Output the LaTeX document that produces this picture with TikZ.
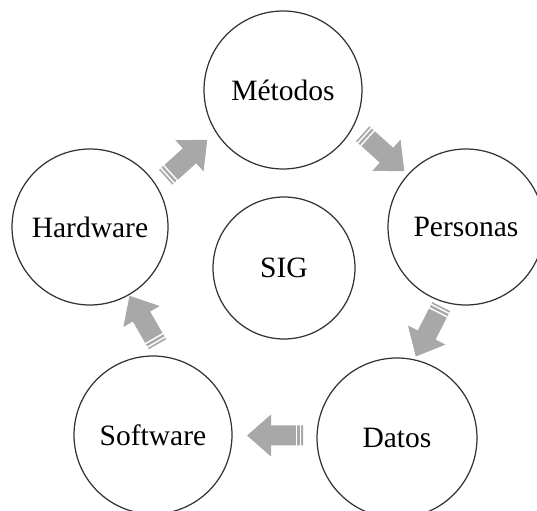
\documentclass[tikz,border=0pt]{standalone}
\usepackage{fontspec}
\setmainfont{Liberation Serif}
\usepackage{xcolor}
\usepackage{tikz}
\usetikzlibrary{calc}

\definecolor{arrowgray}{RGB}{168,168,168}

\tikzset{
  part/.style={circle,draw=black!80,line width=0.7pt,fill=white,inner sep=0pt,
    font=\fontsize{16.8}{20}\selectfont},
  pics/strarrow/.style={code={
    \fill[arrowgray] (-28,-10) -- (4,-10) -- (4,-21) -- (28,0) -- (4,21) -- (4,10) -- (-28,10) -- cycle;
    \draw[white,line width=0.8pt] (-25.5,-10.5) -- (-25.5,10.5) (-21.5,-10.5) -- (-21.5,10.5);
  }}
}

\begin{document}
\begin{tikzpicture}[x=0.02cm,y=0.02cm]
\useasboundingbox (0,0) rectangle (537,510);
\clip (0,0) rectangle (537,510);

% the five parts round the centre
\node[part,minimum size=3.16cm] (met) at (283,420) {Métodos};
\node[part,minimum size=3.12cm] (hw) at (90,283) {Hardware};
\node[part,minimum size=3.12cm] (per) at (466,283) {Personas};
\node[part,minimum size=3.16cm] (sw) at (153,75) {Software};
\node[part,minimum size=3.2cm] (dat) at (397,72) {Datos};

% centre
\node[part,minimum size=2.84cm] (sig) at (284,242) {SIG};

% striped arrows, clockwise
\pic[rotate=42] at ($(hw)!0.5!(met)$) {strarrow};
\pic[rotate=-42] at ($(met)!0.5!(per)+(9,6)$) {strarrow};
\pic[rotate=-117] at ($(per)!0.5!(dat)+(-3,1)$) {strarrow};
\pic[rotate=180] at ($(dat)!0.5!(sw)+(0,1)$) {strarrow};
\pic[rotate=120] at ($(sw)!0.5!(hw)+(22,11)$) {strarrow};
\end{tikzpicture}
\end{document}
